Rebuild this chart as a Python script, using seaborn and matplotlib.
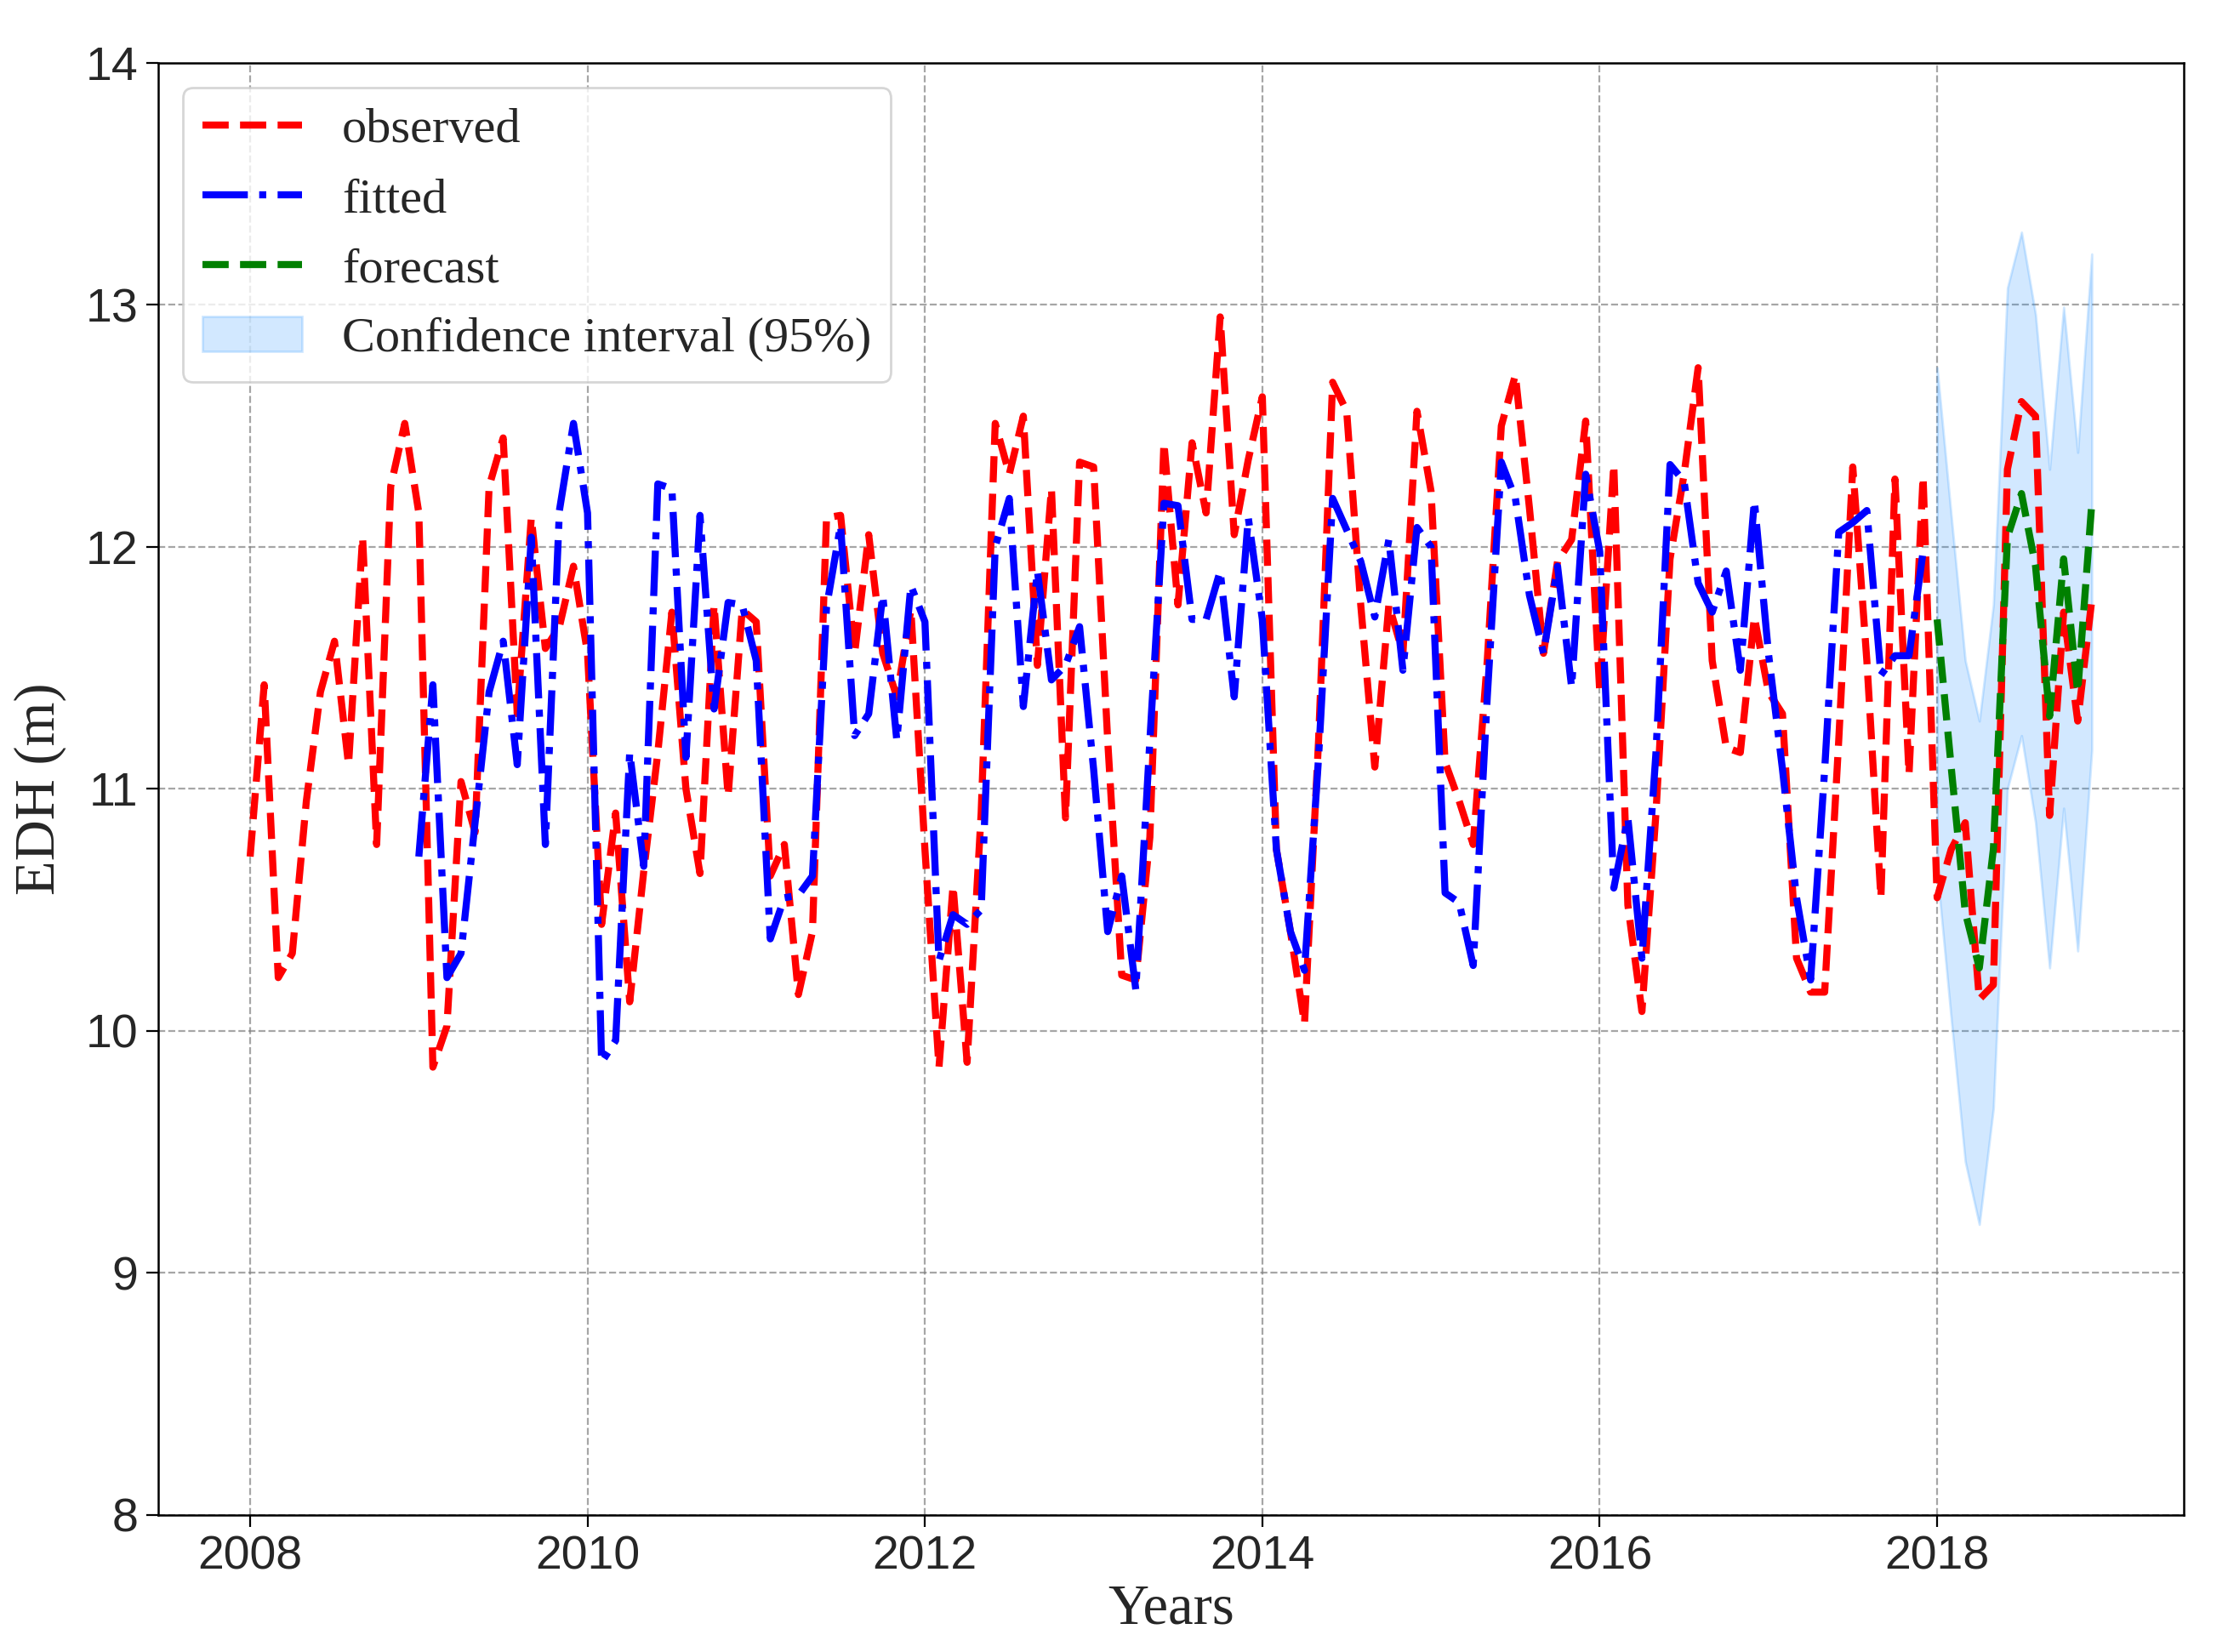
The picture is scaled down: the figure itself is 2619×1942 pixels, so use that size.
import numpy as np
import pandas as pd
import seaborn as sns
import matplotlib.pyplot as plt

# monthly values
observed = [
    10.72, 11.43, 10.22, 10.32, 10.95, 11.40, 11.61, 11.10, 12.04, 10.77, 12.25, 12.51,  # 2008
    12.14, 9.85, 10.02, 11.03, 10.82, 12.25, 12.45, 11.31, 12.12, 11.58, 11.67, 11.92,  # 2009
    11.56, 10.44, 10.90, 10.12, 10.66, 11.15, 11.73, 11.00, 10.65, 11.76, 10.97, 11.74,  # 2010
    11.69, 10.64, 10.77, 10.15, 10.41, 12.12, 12.13, 11.56, 12.05, 11.56, 11.38, 11.74,  # 2011
    10.75, 9.85, 10.60, 9.87, 10.90, 12.51, 12.30, 12.54, 11.51, 12.24, 10.88, 12.35,  # 2012
    12.33, 11.20, 10.23, 10.21, 10.80, 12.43, 11.76, 12.43, 12.14, 12.95, 12.05, 12.36,  # 2013
    12.62, 10.75, 10.41, 10.03, 11.20, 12.68, 12.56, 11.76, 11.09, 11.76, 11.56, 12.56,  # 2014
    12.23, 11.11, 10.95, 10.77, 11.53, 12.50, 12.71, 12.16, 11.56, 11.94, 12.03, 12.52,  # 2015
    11.40, 12.34, 10.52, 10.08, 10.90, 11.95, 12.30, 12.74, 11.53, 11.17, 11.15, 11.71,  # 2016
    11.40, 11.31, 10.30, 10.16, 10.16, 11.20, 12.33, 11.53, 10.55, 12.28, 11.06, 12.29,  # 2017
    10.55, 10.75, 10.86, 10.13, 10.19, 12.32, 12.60, 12.54, 10.89, 11.73, 11.28, 11.78,  # 2018
]

fitted = [
    10.72, 11.43, 10.22, 10.32, 10.86, 11.40, 11.61, 11.10, 12.04, 10.77, 12.15, 12.51,  # 2009
    12.14, 9.87, 9.96, 11.15, 10.68, 12.26, 12.24, 11.13, 12.13, 11.33, 11.77, 11.76,  # 2010
    11.53, 10.38, 10.55, 10.56, 10.64, 11.75, 12.09, 11.22, 11.31, 11.80, 11.20, 11.84,  # 2011
    11.69, 10.29, 10.48, 10.44, 10.50, 12.00, 12.20, 11.34, 11.90, 11.45, 11.51, 11.67,  # 2012
    11.08, 10.41, 10.64, 10.17, 11.20, 12.18, 12.17, 11.70, 11.70, 11.90, 11.38, 12.12,  # 2013
    11.70, 10.75, 10.41, 10.25, 11.13, 12.20, 12.07, 11.94, 11.71, 12.03, 11.49, 12.08,  # 2014
    12.00, 10.57, 10.53, 10.27, 11.38, 12.35, 12.20, 11.80, 11.56, 11.92, 11.42, 12.30,  # 2015
    11.98, 10.59, 10.88, 10.30, 11.15, 12.34, 12.27, 11.85, 11.73, 11.90, 11.49, 12.19,  # 2016
    11.56, 11.08, 10.55, 10.21, 11.08, 12.06, 12.10, 12.15, 11.47, 11.55, 11.55, 11.98,  # 2017
]

forecast = [11.70, 11.09, 10.49, 10.26, 10.75, 12.04, 12.22, 11.92, 11.30, 11.95, 11.40, 12.18]
ci_upper = [12.74, 12.13, 11.53, 11.28, 11.76, 13.07, 13.30, 12.96, 12.32, 12.99, 12.39, 13.21]
ci_lower = [10.66, 10.05, 9.46, 9.20, 9.68, 11.00, 11.22, 10.86, 10.26, 10.92, 10.33, 11.16]

obs_start, fit_start, fc_start = 2008, 2009, 2018
year_ticks = [2008, 2010, 2012, 2014, 2016, 2018]
edh_ticks = [8, 9, 10, 11, 12, 13, 14]


def monthly(start, values):
    return pd.DataFrame({'t': start + np.arange(len(values)) / 12, 'v': values})


obs_df = monthly(obs_start, observed)
fit_df = monthly(fit_start, fitted)
fc_df = monthly(fc_start, forecast)
fc_df['lo'] = ci_lower
fc_df['hi'] = ci_upper

sns.set_theme(style='white')
plt.rcParams['font.family'] = ['Liberation Sans', 'DejaVu Sans']
serif = 'Liberation Serif'

fig, ax = plt.subplots(figsize=(13.095, 9.71), dpi=200)
fig.subplots_adjust(left=0.071, right=0.980, top=0.962, bottom=0.083)

lw = 3.0
sns.lineplot(data=obs_df, x='t', y='v', ax=ax, color='red', linestyle='--', linewidth=lw, label='observed')
sns.lineplot(data=fit_df, x='t', y='v', ax=ax, color='blue', linestyle='-.', linewidth=lw, label='fitted')
sns.lineplot(data=fc_df, x='t', y='v', ax=ax, color='green', linestyle='--', linewidth=lw, label='forecast')
ax.fill_between(fc_df['t'], fc_df['lo'], fc_df['hi'], color='#1E90FF', alpha=0.2, linewidth=1,
                label='Confidence interval (95%)')

ax.set_xlim(2007.455, 2019.46)
ax.set_ylim(8, 14)
ax.set_xticks(year_ticks)
ax.set_yticks(edh_ticks)
ax.tick_params(axis='both', labelsize=20, length=5, width=0.8, color='black', bottom=True, left=True)
ax.grid(True, linestyle='--', color='gray', alpha=0.7, linewidth=0.8)
for s in ax.spines.values():
    s.set_color('black')
    s.set_linewidth(0.9)

ax.set_xlabel('Years', fontsize=24, family=serif, labelpad=2)
ax.set_ylabel('EDH (m)', fontsize=24, family=serif, labelpad=8)
ax.legend(loc='upper left', prop={'family': serif, 'size': 21}, frameon=True, edgecolor='0.8',
          fancybox=True, framealpha=0.8)

fig.savefig('out.png', dpi=200)
